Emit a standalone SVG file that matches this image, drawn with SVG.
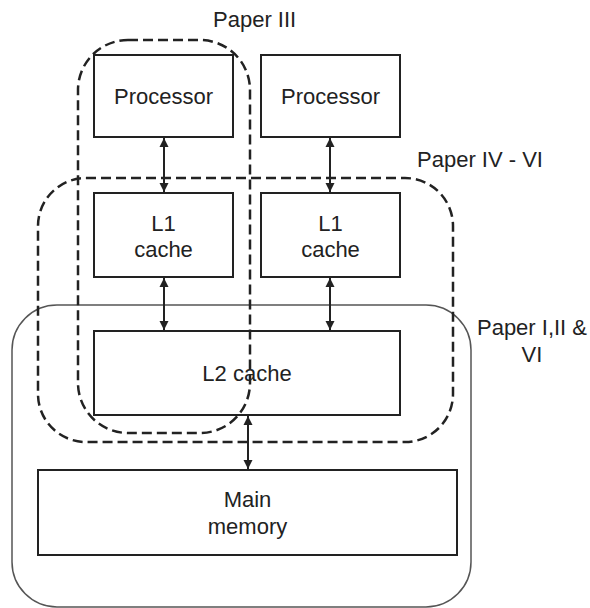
<svg xmlns="http://www.w3.org/2000/svg" width="590" height="608" viewBox="0 0 590 608">
<defs>
<style>
.box{fill:#fff;stroke:#222;stroke-width:2}
.t{font-family:"Liberation Sans",Arial,sans-serif;font-size:22px;fill:#222;text-anchor:middle}
.lbl{font-family:"Liberation Sans",Arial,sans-serif;font-size:22px;fill:#222}
.dash{fill:none;stroke:#222;stroke-width:2.5;stroke-dasharray:10 5}
.solid{fill:none;stroke:#555;stroke-width:1.5}
.conn{stroke:#222;stroke-width:2;fill:none;marker-start:url(#ah);marker-end:url(#ah)}
</style>
<marker id="ah" viewBox="0 0 10 10" refX="10" refY="5" markerWidth="9" markerHeight="10" markerUnits="userSpaceOnUse" orient="auto-start-reverse">
<path d="M0,0 L10,5 L0,10 z" fill="#222"/>
</marker>
</defs>
<rect width="590" height="608" fill="#fff"/>
<g id="group-paper-1-2-6">
<rect class="solid" x="12" y="305" width="459" height="302" rx="45" ry="45"/>
<text class="t" x="532" y="335">Paper I,II &amp;</text>
<text class="t" x="532" y="362">VI</text>
</g>
<g id="proc1"><rect class="box" x="94" y="55" width="139" height="82"/><text class="t" x="163.5" y="104">Processor</text></g>
<g id="proc2"><rect class="box" x="261" y="55" width="139" height="82"/><text class="t" x="330.5" y="104">Processor</text></g>
<g id="l1a"><rect class="box" x="94" y="193" width="139" height="84"/><text class="t" x="163.5" y="231">L1</text><text class="t" x="163.5" y="257">cache</text></g>
<g id="l1b"><rect class="box" x="261" y="193" width="139" height="84"/><text class="t" x="330.5" y="231">L1</text><text class="t" x="330.5" y="257">cache</text></g>
<g id="l2"><rect class="box" x="94" y="331" width="306" height="84"/><text class="t" x="247" y="381">L2 cache</text></g>
<g id="mem"><rect class="box" x="38" y="470" width="419" height="85"/><text class="t" x="247.5" y="507">Main</text><text class="t" x="247.5" y="534">memory</text></g>
<g id="group-paper-3">
<rect class="dash" x="78" y="40" width="172" height="393" rx="50" ry="50"/>
<text class="lbl" x="213" y="27">Paper III</text>
</g>
<g id="group-paper-4-6">
<rect class="dash" x="38" y="178" width="415" height="264" rx="48" ry="48"/>
<text class="lbl" x="417" y="167">Paper IV - VI</text>
</g>
<g id="connectors">
<line class="conn" x1="164" y1="138" x2="164" y2="192"/>
<line class="conn" x1="330" y1="138" x2="330" y2="192"/>
<line class="conn" x1="164" y1="278" x2="164" y2="330"/>
<line class="conn" x1="330" y1="278" x2="330" y2="330"/>
<line class="conn" x1="248" y1="416" x2="248" y2="469"/>
</g>
</svg>
